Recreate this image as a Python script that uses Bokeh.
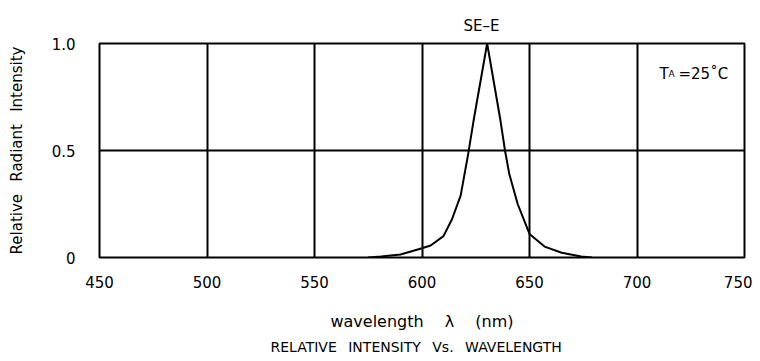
from bokeh.plotting import figure
from bokeh.models import Label, Range1d, FixedTicker, Title
from bokeh.embed import file_html
from bokeh.resources import INLINE

# data
wavelength = [575, 581, 590, 600, 604, 610, 614, 618, 621.5, 624, 630.3,
              636.5, 638.6, 640.6, 644.5, 650, 657, 665, 674, 679]
intensity = [0.0, 0.005, 0.014, 0.043, 0.056, 0.10, 0.18, 0.29, 0.485, 0.64, 1.0,
             0.64, 0.50, 0.39, 0.25, 0.11, 0.051, 0.022, 0.005, 0.0]
x_ticks = [450, 500, 550, 600, 650, 700, 750]
y_ticks = [0, 0.5, 1.0]
y_tick_labels = {0: "0", 0.5: "0.5", 1: "1.0"}

FONT = "DejaVu Sans"
GAP = "\u2002 "  # wide word gap (plain double spaces collapse in SVG)
XGAP = "\u2003 "

p = figure(width=752, height=357, output_backend="svg", toolbar_location=None,
           x_range=Range1d(450, 750), y_range=Range1d(0, 1.0),
           min_border_left=99, min_border_right=8, min_border_top=43, min_border_bottom=100)

p.title.text = "SE\u2013E"
p.title.align = "left"
p.title.offset = 364
p.title.text_font = FONT
p.title.text_font_size = "15px"
p.title.text_font_style = "normal"
p.title.text_color = "black"
p.title.standoff = 14
p.title.vertical_align = "top"

p.outline_line_color = "black"
p.outline_line_width = 2
p.outline_line_alpha = 1.0

for ax in (p.xaxis, p.yaxis):
    ax.axis_line_color = None
    ax.major_tick_line_color = None
    ax.minor_tick_line_color = None
    ax.major_label_text_font = FONT
    ax.major_label_text_font_size = "15px"
    ax.major_label_text_color = "black"
    ax.axis_label_text_font = FONT
    ax.axis_label_text_font_style = "normal"
    ax.axis_label_text_color = "black"

p.xaxis.ticker = FixedTicker(ticks=x_ticks)
p.yaxis.ticker = FixedTicker(ticks=y_ticks)
p.yaxis.major_label_overrides = y_tick_labels
p.xaxis.major_label_standoff = 12
p.yaxis.major_label_standoff = 18
p.xaxis.axis_label = "wavelength" + XGAP + "\u03bb" + XGAP + "(nm)"
p.xaxis.axis_label_text_font_size = "16px"
p.xaxis.axis_label_standoff = 21
p.yaxis.axis_label = "Relative" + GAP + "Radiant" + GAP + "Intensity"
p.yaxis.axis_label_text_font_size = "15px"
p.yaxis.axis_label_standoff = 23

for g in (p.xgrid, p.ygrid):
    g.grid_line_color = "black"
    g.grid_line_width = 2
    g.grid_line_alpha = 1.0

p.line(wavelength, intensity, line_color="black", line_width=2)

caption = Title(text="RELATIVE" + GAP + "INTENSITY" + GAP + "Vs." + GAP + "WAVELENGTH",
                align="left", offset=171, text_font=FONT, text_font_size="14px",
                text_font_style="normal", text_color="black", standoff=6)
p.add_layout(caption, "below")

# T_A = 25 C note (screen units relative to the plot frame, y up from its bottom)
p.add_layout(Label(x=560, y=184, x_units="screen", y_units="screen", text="T",
                   text_font=FONT, text_font_size="15px", text_align="left",
                   text_baseline="alphabetic", text_color="black"))
p.add_layout(Label(x=569, y=184, x_units="screen", y_units="screen", text="A",
                   text_font=FONT, text_font_size="9px", text_align="left",
                   text_baseline="alphabetic", text_color="black"))
p.add_layout(Label(x=579, y=184, x_units="screen", y_units="screen", text="=25\u02daC",
                   text_font=FONT, text_font_size="15px", text_align="left",
                   text_baseline="alphabetic", text_color="black"))

open("out.html", "w").write(file_html(p, INLINE))
